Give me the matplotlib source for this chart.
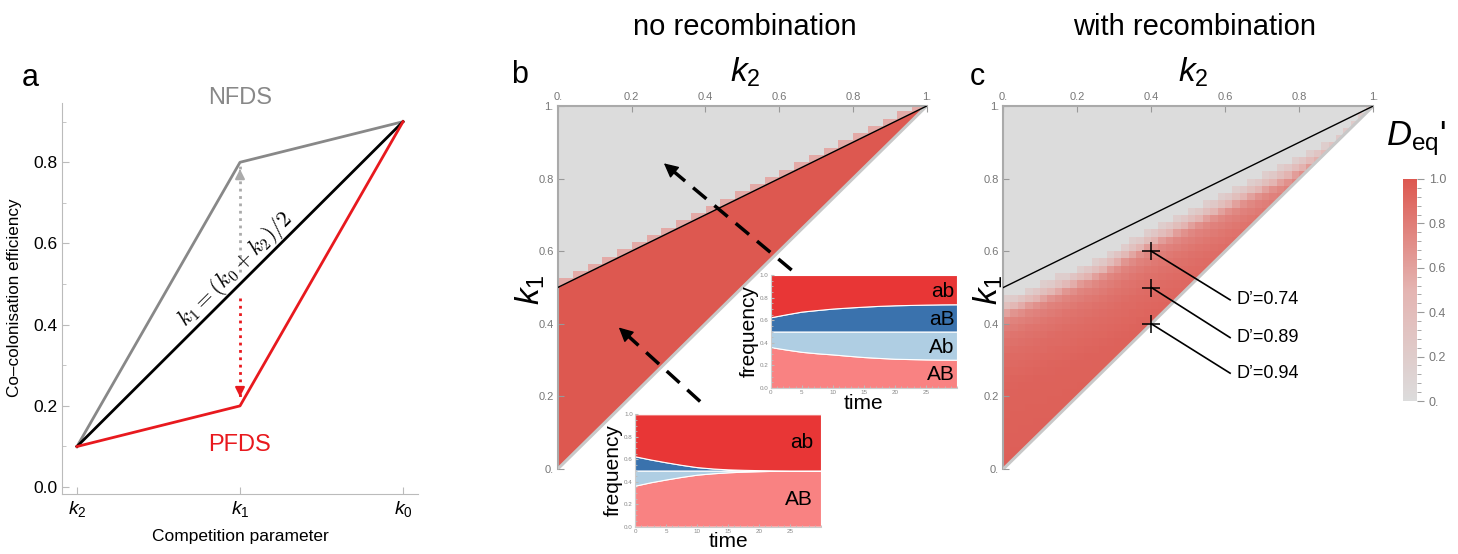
import numpy as np
import matplotlib
matplotlib.use('Agg')
import matplotlib.pyplot as plt
from matplotlib.colors import LinearSegmentedColormap, Normalize
from matplotlib.cm import ScalarMappable
from matplotlib.patches import Polygon
from matplotlib.ticker import MultipleLocator

plt.rcParams['font.family'] = ['Liberation Sans', 'DejaVu Sans']
plt.rcParams['mathtext.fontset'] = 'custom'
plt.rcParams['mathtext.rm'] = 'Liberation Sans'
plt.rcParams['mathtext.it'] = 'Liberation Sans:italic'

W, H = 1458, 554

# panel a: co-colonisation efficiency at k2, k1, k0
a_x = [0, 1, 2]
a_xlabels = ['$k_2$', '$k_1$', '$k_0$']
nfds = [0.1, 0.8, 0.9]
neutral = [0.1, 0.5, 0.9]
pfds = [0.1, 0.2, 0.9]
gray_arrow = [0.53, 0.79]
red_arrow = [0.465, 0.215]

# panel b/c grid and black line k1 = (k0 + k2)/2 with k0 = 1
n_cells = 50
sub = 8
k0 = 1.0
grid_ticks = [0, 0.2, 0.4, 0.6, 0.8, 1.0]
grid_ticklabels = ['0.', '0.2', '0.4', '0.6', '0.8', '1.']

# panel c: upper edge of the linked region and D' fade below it
c_k2 = [0.0, 0.1, 0.26, 0.4, 0.58, 0.74, 0.9, 1.0]
c_upper = [0.46, 0.50, 0.57, 0.652, 0.74, 0.82, 0.905, 1.0]
fade_depth = [0.0, 0.02, 0.04, 0.06, 0.1, 0.15, 0.25, 0.5]
fade_value = [0.18, 0.42, 0.66, 0.76, 0.84, 0.89, 0.94, 0.96]
marks_k2 = [0.4, 0.4, 0.4]
marks_k1 = [0.6, 0.5, 0.4]
marks_text = ['D\u2019=0.74', 'D\u2019=0.89', 'D\u2019=0.94']
marks_label_y = [0.466, 0.362, 0.264]

# panel b arrows (head, tail)
arrow1 = [(0.282, 0.847), (0.634, 0.548)]
arrow2 = [(0.16, 0.395), (0.386, 0.186)]

# insets: haplotype frequencies over time
t = [0, 2.5, 5, 7.5, 10, 12.5, 15, 17.5, 20, 22.5, 25, 27.5, 30]
AB1 = [0.362, 0.340, 0.320, 0.307, 0.297, 0.285, 0.274, 0.266, 0.259, 0.256, 0.253, 0.251, 0.250]
Ab1 = [0.138, 0.160, 0.180, 0.193, 0.203, 0.215, 0.226, 0.234, 0.241, 0.244, 0.247, 0.249, 0.250]
aB1 = [0.126, 0.152, 0.176, 0.190, 0.203, 0.212, 0.220, 0.227, 0.232, 0.235, 0.238, 0.240, 0.241]
ab1 = [0.374, 0.348, 0.324, 0.310, 0.297, 0.288, 0.280, 0.273, 0.268, 0.265, 0.262, 0.260, 0.259]
AB2 = [0.365, 0.395, 0.420, 0.443, 0.463, 0.475, 0.484, 0.490, 0.494, 0.497, 0.499, 0.500, 0.500]
Ab2 = [0.135, 0.105, 0.080, 0.057, 0.037, 0.025, 0.016, 0.010, 0.006, 0.003, 0.001, 0.000, 0.000]
aB2 = [0.126, 0.098, 0.073, 0.050, 0.030, 0.018, 0.010, 0.006, 0.003, 0.001, 0.000, 0.000, 0.000]
ab2 = [0.374, 0.402, 0.427, 0.450, 0.470, 0.482, 0.490, 0.494, 0.497, 0.499, 0.500, 0.500, 0.500]
hap_colors = ['#F98282', '#AFCEE3', '#3A72AD', '#E83636']

RED = '#DD5850'
GRAY = '#DCDCDC'
cmap = LinearSegmentedColormap.from_list('dprime', [GRAY, '#E4B4B1', RED])

fig = plt.figure(figsize=(W / 100, H / 100), dpi=100)


def px_axes(l, t_, r, b):
    return fig.add_axes([l / W, 1 - b / H, (r - l) / W, (b - t_) / H])


def ftext(x, y, s, **kw):
    return fig.text(x / W, 1 - y / H, s, **kw)


# ---------------- panel a ----------------
ax = px_axes(62, 103, 418, 494)
ax.plot(a_x, nfds, color='#888888', lw=2)
ax.plot([a_x[0], a_x[2]], [neutral[0], neutral[2]], color='black', lw=2)
ax.plot(a_x, pfds, color='#E8191E', lw=2)
ax.plot([1, 1], gray_arrow, color='#AAAAAA', lw=2, ls=':')
ax.annotate('', xy=(1, gray_arrow[1]), xytext=(1, gray_arrow[1] - 0.02),
            arrowprops=dict(arrowstyle='-|>', color='#AAAAAA', lw=1.5, mutation_scale=14))
ax.plot([1, 1], red_arrow, color='#E8191E', lw=2, ls=':')
ax.annotate('', xy=(1, red_arrow[1]), xytext=(1, red_arrow[1] + 0.02),
            arrowprops=dict(arrowstyle='-|>', color='#E8191E', lw=1.5, mutation_scale=14))
ax.set_xlim(-0.092, 2.092)
ax.set_ylim(-0.017, 0.946)
for s in ['top', 'right']:
    ax.spines[s].set_visible(False)
for s in ['left', 'bottom']:
    ax.spines[s].set_color('#BBBBBB')
ax.set_xticks(a_x)
ax.set_xticklabels(a_xlabels, fontsize=14)
ax.set_yticks([0, 0.2, 0.4, 0.6, 0.8])
ax.set_yticklabels(['0.0', '0.2', '0.4', '0.6', '0.8'], fontsize=12.5)
ax.yaxis.set_minor_locator(MultipleLocator(0.1))
ax.tick_params(which='both', direction='in', color='#BBBBBB', labelcolor='black')
ax.tick_params(which='major', length=5)
ax.tick_params(which='minor', length=3)
ax.text(1, 0.958, 'NFDS', color='#888888', fontsize=17, ha='center', va='center')
ax.text(1, 0.103, 'PFDS', color='#E8191E', fontsize=17, ha='center', va='center')
p1 = ax.transData.transform((a_x[0], neutral[0]))
p2 = ax.transData.transform((a_x[2], neutral[2]))
ang = np.degrees(np.arctan2(p2[1] - p1[1], p2[0] - p1[0]))
ax.text(0.97, 0.535, r'$k_1=(k_0+k_2)/2$', rotation=ang, rotation_mode='anchor',
        ha='center', va='center', fontsize=16, math_fontfamily='cm')
ftext(15, 298, 'Co\u2013colonisation efficiency', rotation=90, fontsize=12.3, ha='center', va='center')
ftext(240, 537, 'Competition parameter', fontsize=12.5, ha='center', va='center')
ftext(30, 78, 'a', fontsize=22, ha='center', va='center')

# ---------------- panel b / c grids ----------------
cen = (np.arange(n_cells) + 0.5) / n_cells
K2, K1 = np.meshgrid(cen, cen)

# panel b: smooth red region below the line, pink cells where the line crosses a cell
nf = n_cells * sub
fcen = (np.arange(nf) + 0.5) / nf
F2, F1 = np.meshgrid(fcen, fcen)
col_center = (np.floor(F2 * n_cells) + 0.5) / n_cells
row_top = (np.floor((k0 + col_center) / 2 * n_cells) + 1) / n_cells
line_f = (k0 + F2) / 2
b_vals = np.where(F1 < line_f, 1.0, np.where(F1 < row_top + 0.005, 0.55, 0.0))

d_c = np.interp(K2, c_k2, c_upper) - K1
c_vals = np.where(d_c > -0.01, np.interp(np.clip(d_c, 0, None), fade_depth, fade_value), 0.0)


def triangle_axes(l, r, vals):
    axt = px_axes(l, 106, r, 469)
    im = axt.imshow(vals, origin='lower', extent=(0, 1, 0, 1), cmap=cmap, vmin=0, vmax=1,
                    interpolation='nearest', aspect='auto')
    tri = Polygon([(0, 0), (0, 1), (1, 1)], closed=True, transform=axt.transData)
    im.set_clip_path(tri)
    axt.plot([0, 1], [0, 1], color='#C8C8C8', lw=2.2, zorder=3, solid_capstyle='butt')
    axt.plot([0, 1], [0.5, 1], color='black', lw=1, zorder=4)
    axt.set_xlim(0, 1)
    axt.set_ylim(0, 1)
    axt.xaxis.tick_top()
    axt.set_xticks(grid_ticks)
    axt.set_xticklabels(grid_ticklabels)
    axt.set_yticks(grid_ticks)
    axt.set_yticklabels(grid_ticklabels)
    axt.tick_params(direction='in', length=4, color='#999999', labelcolor='#777777',
                    labelsize=8, pad=3)
    for s in ['right', 'bottom']:
        axt.spines[s].set_visible(False)
    for s in ['left', 'top']:
        axt.spines[s].set_color('#AAAAAA')
        axt.spines[s].set_linewidth(1.5)
    return axt


axb = triangle_axes(557.7, 926.7, b_vals)
for head, tail in [arrow1, arrow2]:
    sx = head[0] + (tail[0] - head[0]) * 0.05
    sy = head[1] + (tail[1] - head[1]) * 0.05
    axb.plot([tail[0], sx], [tail[1], sy], color='black', lw=2.5,
             dashes=(5, 3), zorder=5)
    hx = head[0] + (tail[0] - head[0]) * 0.08
    hy = head[1] + (tail[1] - head[1]) * 0.08
    axb.annotate('', xy=head, xytext=(hx, hy),
                 arrowprops=dict(arrowstyle='-|>', color='black', lw=1, mutation_scale=22),
                 zorder=6)
ftext(520, 75, 'b', fontsize=22, ha='center', va='center')
ftext(745, 27, 'no recombination', fontsize=21, ha='center', va='center')
ftext(745, 72, '$k_2$', fontsize=24, ha='center', va='center')
ftext(530, 290, '$k_1$', fontsize=24, ha='center', va='center', rotation=90)

axc = triangle_axes(1003.3, 1373.3, c_vals)
axc.plot(marks_k2, marks_k1, ls='none', marker='+', ms=13, mew=1.1, color='black', zorder=6)
for x0, y0, s, yl in zip(marks_k2, marks_k1, marks_text, marks_label_y):
    axc.plot([x0, 0.613], [y0, yl], color='black', lw=1.2, zorder=6)
    axc.text(0.629, yl, s, fontsize=13, ha='left', va='center')
ftext(977, 77, 'c', fontsize=22, ha='center', va='center')
ftext(1195, 27, 'with recombination', fontsize=21, ha='center', va='center')
ftext(1193, 72, '$k_2$', fontsize=24, ha='center', va='center')
ftext(988, 290, '$k_1$', fontsize=24, ha='center', va='center', rotation=90)

cax = px_axes(1403, 179, 1417, 401)
cb = fig.colorbar(ScalarMappable(Normalize(0, 1), cmap), cax=cax)
cb.outline.set_visible(False)
cb.set_ticks([0, 0.2, 0.4, 0.6, 0.8, 1.0])
cb.set_ticklabels(['0.', '0.2', '0.4', '0.6', '0.8', '1.0'])
cax.yaxis.set_minor_locator(MultipleLocator(0.04))
cax.tick_params(which='both', color='#999999', labelcolor='#777777', labelsize=9)
cax.tick_params(which='major', length=5)
cax.tick_params(which='minor', length=3)
ftext(1386, 145, r"$D_{\mathrm{eq}}$'", fontsize=25, ha='left', va='baseline')


# ---------------- insets ----------------
def inset(l, t_, r, b, fr, labels):
    axi = px_axes(l, t_, r, b)
    axi.stackplot(t, *fr, colors=hap_colors, edgecolor='white', linewidth=0.8)
    axi.set_xlim(0, 30)
    axi.set_ylim(0, 1)
    axi.set_xticks([0, 5, 10, 15, 20, 25])
    axi.set_yticks([0, 0.2, 0.4, 0.6, 0.8, 1.0])
    axi.set_yticklabels(['0.0', '0.2', '0.4', '0.6', '0.8', '1.0'])
    axi.xaxis.set_minor_locator(MultipleLocator(1))
    axi.yaxis.set_minor_locator(MultipleLocator(0.05))
    axi.tick_params(which='both', direction='in', color='#BBBBBB', labelcolor='#888888',
                    labelsize=4.5, pad=1.5)
    axi.tick_params(which='major', length=2.5)
    axi.tick_params(which='minor', length=1.2)
    for s in ['top', 'right']:
        axi.spines[s].set_visible(False)
    for s in ['left', 'bottom']:
        axi.spines[s].set_color('#CCCCCC')
    axi.set_ylabel('frequency', fontsize=15, labelpad=1)
    axi.set_xlabel('time', fontsize=15, labelpad=-1)
    for x, y, s in labels:
        axi.text(x, y, s, fontsize=15, ha='right', va='center')
    return axi


inset(770.7, 275, 957, 388, [AB1, Ab1, aB1, ab1],
      [(29.6, 0.85, 'ab'), (29.6, 0.61, 'aB'), (29.6, 0.36, 'Ab'), (29.6, 0.12, 'AB')])
inset(635, 414.3, 821, 526.7, [AB2, Ab2, aB2, ab2],
      [(28.7, 0.75, 'ab'), (28.7, 0.24, 'AB')])

fig.savefig('out.png', dpi=100)
